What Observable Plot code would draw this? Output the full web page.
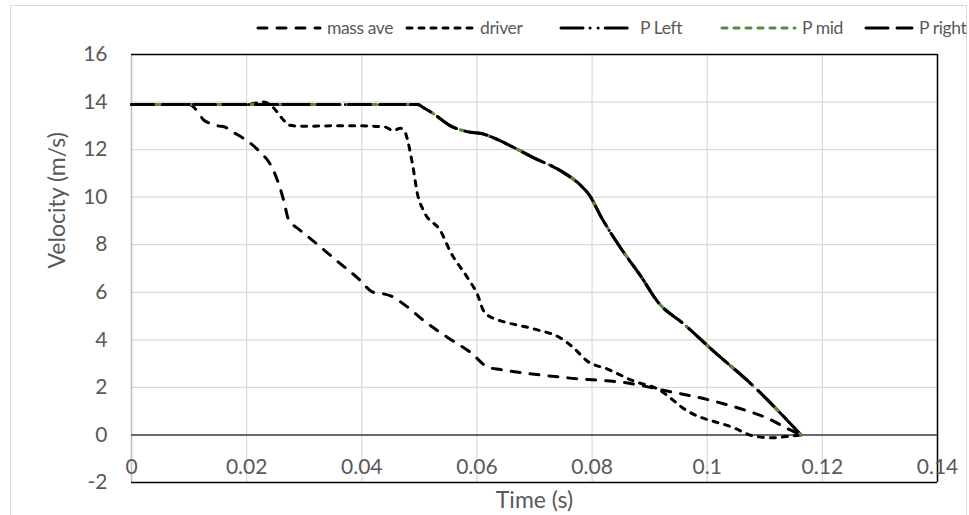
<!DOCTYPE html>
<html>
<head>
<meta charset="utf-8">
<script src="https://cdn.jsdelivr.net/npm/d3@7"></script>
<script src="https://cdn.jsdelivr.net/npm/@observablehq/plot@0.6"></script>
<style>
  body { margin: 0; background: #fff; font-family: Lato, "Open Sans", sans-serif; }
  #wrap { position: relative; width: 969px; height: 515px; overflow: hidden; }
  #border { position: absolute; left: 10px; top: 5px; width: 957px; height: 520px; border: 1px solid #d9d9d9; box-sizing: border-box; pointer-events: none; }
  #legend { position: relative; height: 30px; }
  .item { position: absolute; top: 17px; display: flex; align-items: center; font-size: 17.5px; letter-spacing: -0.4px; color: #595959; white-space: nowrap; }
  .item svg { margin-right: 5px; }
</style>
</head>
<body>
<div id="wrap">
  <div id="border"></div>
  <div id="legend"></div>
  <div id="chart"></div>
</div>
<script>
// ---- data ----
const massTime = [0, 0.005, 0.010, 0.0115, 0.0125, 0.0137, 0.015, 0.0162, 0.0175, 0.0193, 0.0219, 0.0247, 0.0265, 0.0272, 0.028, 0.0288, 0.0316, 0.0358, 0.0393, 0.042, 0.0438, 0.045, 0.0473, 0.0508, 0.0549, 0.059, 0.0619, 0.0641, 0.0758, 0.0873, 0.0914, 0.101, 0.1058, 0.1105, 0.1145, 0.1163];
const massVel  = [13.9, 13.9, 13.9, 13.6, 13.25, 13.1, 13.0, 12.95, 12.75, 12.5, 12.0, 11.1, 9.8, 9.1, 8.85, 8.7, 8.15, 7.3, 6.6, 6.0, 5.93, 5.85, 5.5, 4.8, 4.1, 3.45, 2.85, 2.75, 2.4, 2.14, 1.93, 1.43, 1.1, 0.7, 0.2, 0];

const driverTime = [0, 0.01, 0.02, 0.0215, 0.023, 0.0245, 0.0262, 0.0275, 0.03, 0.035, 0.04, 0.044, 0.0455, 0.0467, 0.0475, 0.048, 0.0488, 0.0497, 0.0508, 0.0537, 0.0554, 0.0584, 0.0601, 0.0612, 0.0629, 0.0641, 0.070, 0.0745, 0.0768, 0.0792, 0.0827, 0.0872, 0.0914, 0.0966, 0.1046, 0.108, 0.111, 0.1145, 0.1163];
const driverVel  = [13.9, 13.9, 13.9, 13.95, 14.0, 13.8, 13.3, 13.02, 12.98, 13.0, 13.0, 12.95, 12.8, 12.9, 12.75, 12.35, 11.4, 10.1, 9.4, 8.57, 7.7, 6.6, 5.9, 5.2, 4.9, 4.8, 4.45, 4.08, 3.66, 3.1, 2.77, 2.27, 1.93, 1.0, 0.3, -0.04, -0.12, -0.05, 0];

const pTime   = [0, 0.02, 0.04, 0.0497, 0.0508, 0.0525, 0.0554, 0.0584, 0.0612, 0.0624, 0.0659, 0.0699, 0.0746, 0.078, 0.0795, 0.0815, 0.085, 0.0884, 0.0914, 0.096, 0.1012, 0.1076, 0.1163];
const pLeftVel  = [13.9, 13.9, 13.9, 13.9, 13.75, 13.5, 13.0, 12.75, 12.65, 12.55, 12.15, 11.65, 11.1, 10.5, 10.1, 9.2, 7.85, 6.7, 5.6, 4.65, 3.5, 2.15, 0];
const pMidVel   = [13.9, 13.9, 13.9, 13.9, 13.75, 13.5, 13.0, 12.75, 12.65, 12.55, 12.15, 11.65, 11.1, 10.5, 10.1, 9.2, 7.85, 6.7, 5.6, 4.65, 3.5, 2.15, 0];
const pRightVel = [13.9, 13.9, 13.9, 13.9, 13.75, 13.5, 13.0, 12.75, 12.65, 12.55, 12.15, 11.65, 11.1, 10.5, 10.1, 9.2, 7.85, 6.7, 5.6, 4.65, 3.5, 2.15, 0];

const xTicks = [0, 0.02, 0.04, 0.06, 0.08, 0.1, 0.12, 0.14];
const xTickLabels = ["0", "0.02", "0.04", "0.06", "0.08", "0.1", "0.12", "0.14"];
const yTicks = [-2, 0, 2, 4, 6, 8, 10, 12, 14, 16];
const seriesNames = ["mass ave", "driver", "P Left", "P mid", "P right"];

// ---- styles ----
const styles = {
  "mass ave": {stroke: "#000", dash: "9,10"},
  "driver":   {stroke: "#000", dash: "5,7"},
  "P Left":   {stroke: "#000", dash: "22,7,0.1,8,0.1,7"},
  "P mid":    {stroke: "#5b8b3e", dash: "5,7"},
  "P right":  {stroke: "#000", dash: "22,9"}
};

const toRows = (ts, vs) => ts.map((t, i) => ({t, v: vs[i]}));
const series = {
  "mass ave": toRows(massTime, massVel),
  "driver": toRows(driverTime, driverVel),
  "P Left": toRows(pTime, pLeftVel),
  "P mid": toRows(pTime, pMidVel),
  "P right": toRows(pTime, pRightVel)
};

// ---- legend ----
const legendPos = {"mass ave": 256, "driver": 405, "P Left": 559, "P mid": 720, "P right": 864};
const legendLen = {"mass ave": 66, "driver": 70, "P Left": 76, "P mid": 77, "P right": 50};
const legend = document.getElementById("legend");
for (const name of seriesNames) {
  const s = styles[name];
  const div = document.createElement("div");
  div.className = "item";
  div.style.left = legendPos[name] + "px";
  const L = legendLen[name];
  div.innerHTML = `<svg width="${L}" height="12"><line x1="2" y1="6" x2="${L - 2}" y2="6" stroke="${s.stroke}" stroke-width="3" stroke-linecap="round" stroke-dasharray="${s.dash}"/></svg><span>${name}</span>`;
  legend.appendChild(div);
}

// ---- chart ----
const lineMarks = seriesNames.map(name => Plot.line(series[name], {
  x: "t", y: "v", stroke: styles[name].stroke, strokeWidth: 3,
  strokeDasharray: styles[name].dash, strokeLinecap: "round", strokeLinejoin: "round",
  curve: "monotone-x"
}));

const chart = Plot.plot({
  width: 969,
  height: 485,
  marginLeft: 131,
  marginRight: 32,
  marginTop: 24,
  marginBottom: 33,
  style: {fontFamily: "Lato, 'Open Sans', sans-serif", background: "transparent", overflow: "visible"},
  x: {domain: [0, 0.14], axis: null},
  y: {domain: [-2, 16], axis: null},
  marks: [
    Plot.gridY(yTicks, {stroke: "#d9d9d9", strokeOpacity: 1, strokeWidth: 1.2}),
    Plot.gridX(xTicks, {stroke: "#d9d9d9", strokeOpacity: 1, strokeWidth: 1.2}),
    Plot.axisY(yTicks, {tickSize: 0, tickPadding: 24, fontSize: 21, color: "#595959",
      tickFormat: d => String(d), label: null}),
    Plot.text(["Velocity (m/s)"], {frameAnchor: "left", dx: -74, rotate: -90, text: d => d,
      fontSize: 23, fill: "#595959"}),
    Plot.ruleX([0], {stroke: "#bfbfbf", strokeWidth: 1.5}),
    Plot.ruleX([0.14], {stroke: "#000", strokeWidth: 1.5}),
    Plot.ruleY([16, -2], {stroke: "#000", strokeWidth: 1.5}),
    Plot.ruleY([0], {stroke: "#404040", strokeWidth: 1.5}),
    Plot.text(xTicks, {x: d => d, y: 0, dy: 32, text: (d, i) => xTickLabels[i], fontSize: 21, fill: "#595959"}),
    Plot.text(["Time (s)"], {frameAnchor: "bottom", lineAnchor: "middle", dy: 18, text: d => d, fontSize: 23, fill: "#595959"}),
    ...lineMarks
  ]
});
document.getElementById("chart").appendChild(chart);
</script>
</body>
</html>
